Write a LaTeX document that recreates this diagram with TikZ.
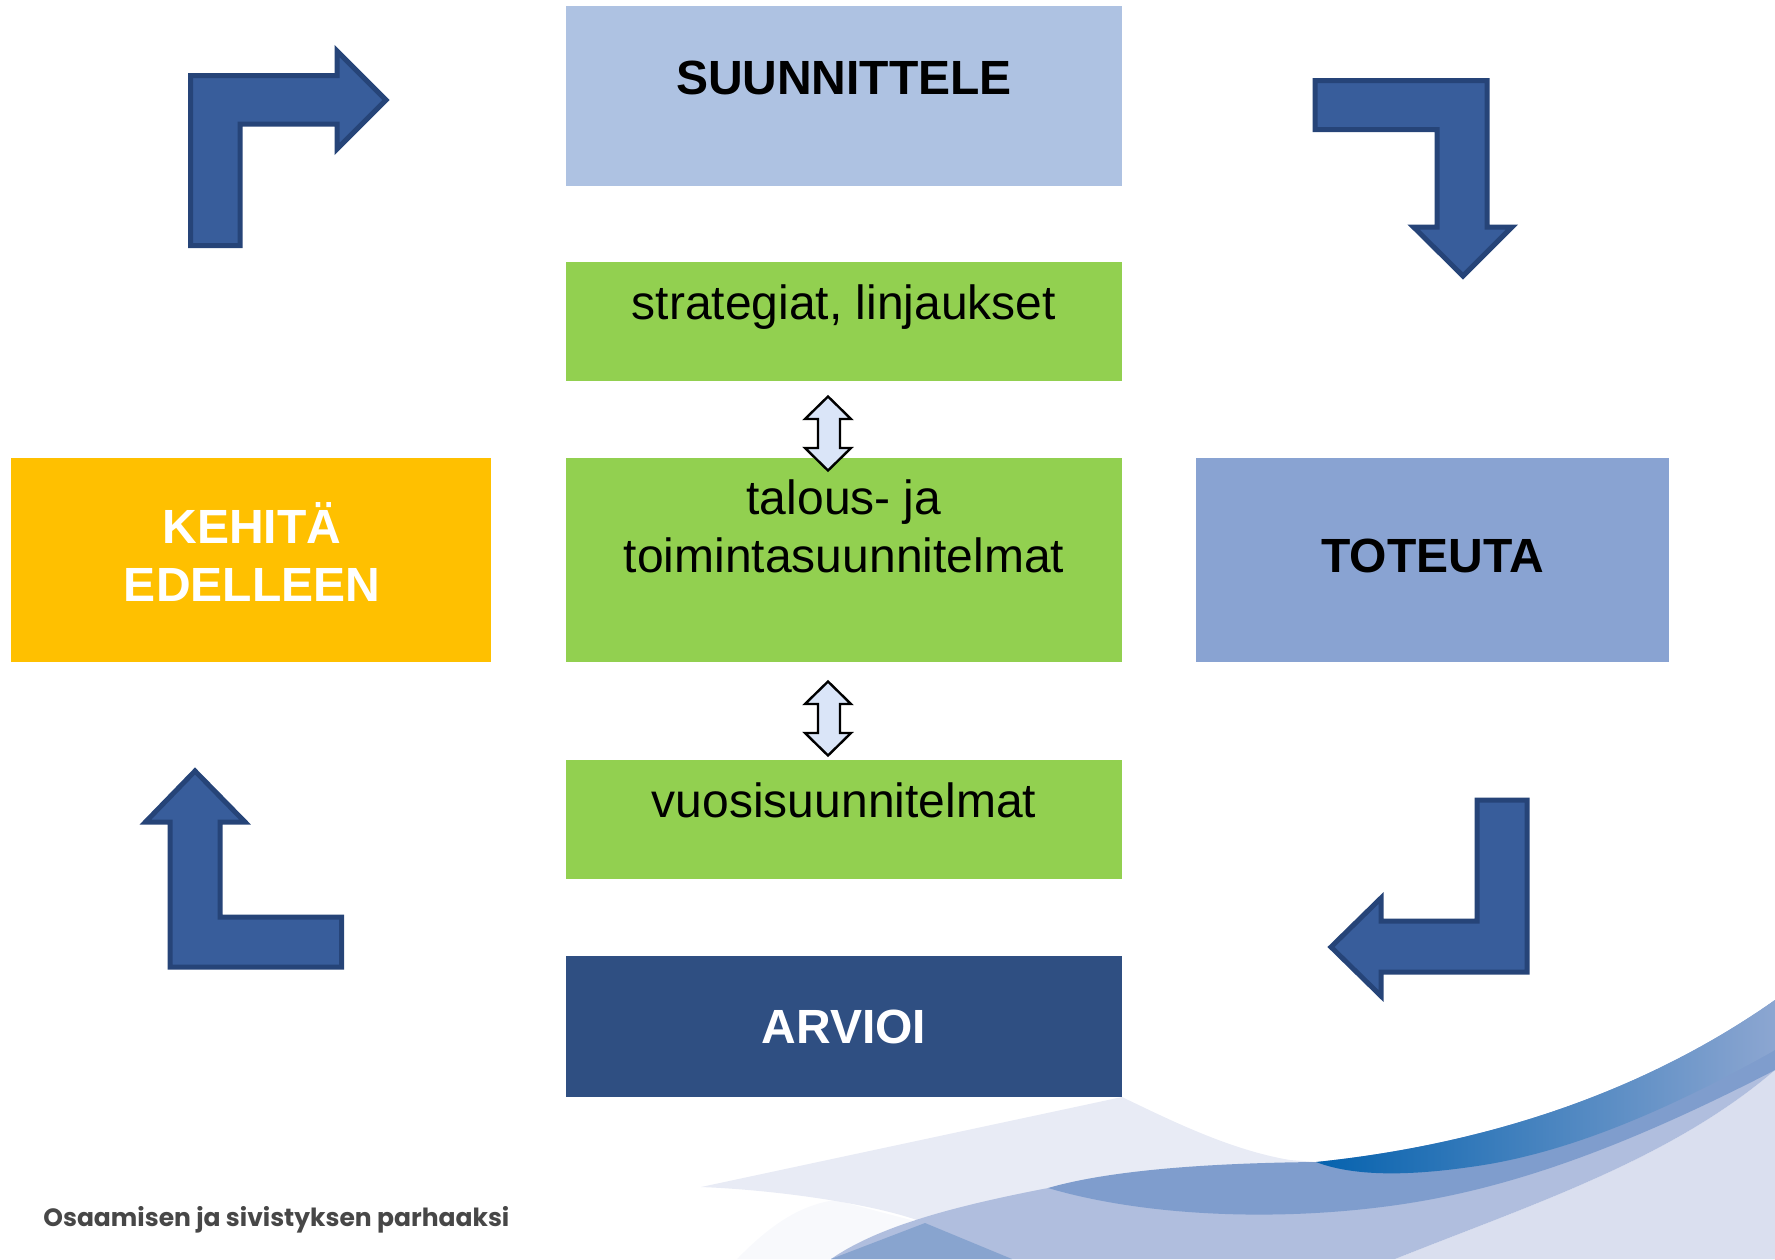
\documentclass[tikz,border=0pt]{standalone}
\usepackage{fontspec}
\setmainfont{Liberation Sans}
\newfontfamily\logofont{Poppins}
\definecolor{boxplan}{HTML}{AEC2E2}
\definecolor{boxgreen}{HTML}{92D050}
\definecolor{boxdev}{HTML}{FFC000}
\definecolor{boxdo}{HTML}{89A3D2}
\definecolor{boxeval}{HTML}{2F4F82}
\definecolor{bigfill}{HTML}{385D9B}
\definecolor{bigline}{HTML}{264478}
\definecolor{smallfill}{HTML}{DAE5F8}
\definecolor{swpale}{HTML}{E8EBF5}
\definecolor{swlav}{HTML}{DADFEF}
\definecolor{swmid}{HTML}{B0BEDE}
\definecolor{swdark}{HTML}{7F9DCD}
\definecolor{swtri}{HTML}{88A4CF}
\definecolor{swfaint}{HTML}{F8F9FC}
\definecolor{swblueA}{HTML}{0562AE}
\definecolor{swblueB}{HTML}{4A82C0}
\definecolor{swblueC}{HTML}{8CA6D1}
\tikzset{
  x=0.5pt,y=-0.5pt,
  box/.style={rectangle,draw=none,inner sep=0pt,outer sep=0pt,align=center},
  planbox/.style={box,fill=boxplan,minimum width=278pt,font=\fontsize{24}{29}\selectfont\bfseries,text=black},
  greenbox/.style={box,fill=boxgreen,minimum width=278pt,font=\fontsize{24}{29}\selectfont,text=black},
  bigarrow/.style={draw=bigline,fill=bigfill,line width=2.5pt,miter limit=10},
  smallarrow/.style={draw=black,fill=smallfill,line width=1.2pt},
}
\begin{document}
\begin{tikzpicture}
\useasboundingbox (0,0) rectangle (1775,1259);
% background swooshes
\fill[swfaint] (737,1259) .. controls (770,1225) and (800,1205) .. (835,1200) -- (930,1225) -- (831,1259) -- cycle;
\fill[swpale] (701,1187) -- (1122,1097)
  .. controls (1170,1120) and (1230,1150) .. (1290,1160)
  -- (1316,1162) -- (1048,1188) -- (925,1223)
  .. controls (880,1205) and (780,1190) .. (701,1187) -- cycle;
\fill[swlav] (1395,1259) .. controls (1530,1205) and (1670,1160) .. (1775,1070) -- (1775,1259) -- cycle;
\fill[swmid] (831,1259) .. controls (880,1225) and (960,1205) .. (1048,1188)
  -- (1410,1203) -- (1775,1070)
  .. controls (1670,1160) and (1530,1205) .. (1395,1259) -- cycle;
\fill[swdark] (1048,1188) .. controls (1110,1170) and (1210,1163) .. (1316,1162)
  .. controls (1480,1145) and (1640,1095) .. (1775,1000) -- (1775,1070)
  .. controls (1620,1150) and (1510,1187) .. (1410,1203)
  .. controls (1290,1222) and (1150,1218) .. (1048,1188) -- cycle;
\shade[left color=swblueA,middle color=swblueB,right color=swblueC]
  (1316,1162) .. controls (1480,1145) and (1640,1095) .. (1775,1000)
  -- (1775,1050) .. controls (1660,1115) and (1560,1155) .. (1470,1167)
  .. controls (1400,1177) and (1350,1175) .. (1316,1162) -- cycle;
\fill[swtri] (925,1223) -- (831,1259) -- (1012,1259) -- cycle;
% boxes
\node[planbox,text height=44pt,text depth=46pt] (plan) at (844,96) {SUUNNITTELE};
\node[greenbox,text height=28.5pt,text depth=31pt] (strategy) at (844,321.5) {strategiat, linjaukset};
\node[greenbox,minimum height=102pt] (budget) at (844,560) {};
\node[greenbox] (budgettext) at (844,526) {talous- ja\\toimintasuunnitelmat};
\node[greenbox,text height=28.5pt,text depth=31pt] (year) at (844,819.5) {vuosisuunnitelmat};
\node[box,fill=boxeval,minimum width=278pt,text=white,font=\fontsize{24}{29}\selectfont\bfseries,text height=43.5pt,text depth=27pt] (eval) at (844,1026.5) {ARVIOI};
\node[box,fill=boxdev,minimum width=240pt,minimum height=102pt] (dev) at (251,560) {};
\node[box,text=white,font=\fontsize{24}{29}\selectfont\bfseries] (devtext) at (252,551.6) {KEHITÄ\\EDELLEEN};
\node[box,fill=boxdo,minimum width=236.5pt,text=black,font=\fontsize{24}{29}\selectfont\bfseries,text height=57pt,text depth=45pt] (do) at (1432.5,560) {TOTEUTA};
% big bent arrows
\draw[bigarrow] (190.5,245.5) -- (190.5,75.5) -- (337,75.5) -- (337,51) -- (386,100) -- (337,149) -- (337,124) -- (240,124) -- (240,245.5) -- cycle;
\draw[bigarrow] (1315,80.5) -- (1487,80.5) -- (1487,227) -- (1512,227) -- (1463,276) -- (1413.5,227) -- (1437,227) -- (1437,129.5) -- (1315,129.5) -- cycle;
\draw[bigarrow] (1527,800) -- (1527,972) -- (1381,972) -- (1381,996) -- (1331,947) -- (1381,898) -- (1381,921) -- (1477,921) -- (1477,800) -- cycle;
\draw[bigarrow] (170,967) -- (341.5,967) -- (341.5,917) -- (220,917) -- (220,822) -- (245,822) -- (195,771) -- (145.5,822) -- (170,822) -- cycle;
% small double arrows
\draw[smallarrow] (828,396.5) -- (851,419) -- (840,419) -- (840,448) -- (851,448) -- (828,470.5) -- (805,448) -- (818,448) -- (818,419) -- (805,419) -- cycle;
\draw[smallarrow] (828,681.5) -- (851,704) -- (840,704) -- (840,733) -- (851,733) -- (828,755.5) -- (805,733) -- (818,733) -- (818,704) -- (805,704) -- cycle;
% slogan
\node[anchor=base west,inner sep=0pt,text=black!72,font=\logofont\fontsize{12.5}{15}\selectfont\bfseries] (slogan) at (43,1226) {Osaamisen ja sivistyksen parhaaksi};
\end{tikzpicture}
\end{document}
